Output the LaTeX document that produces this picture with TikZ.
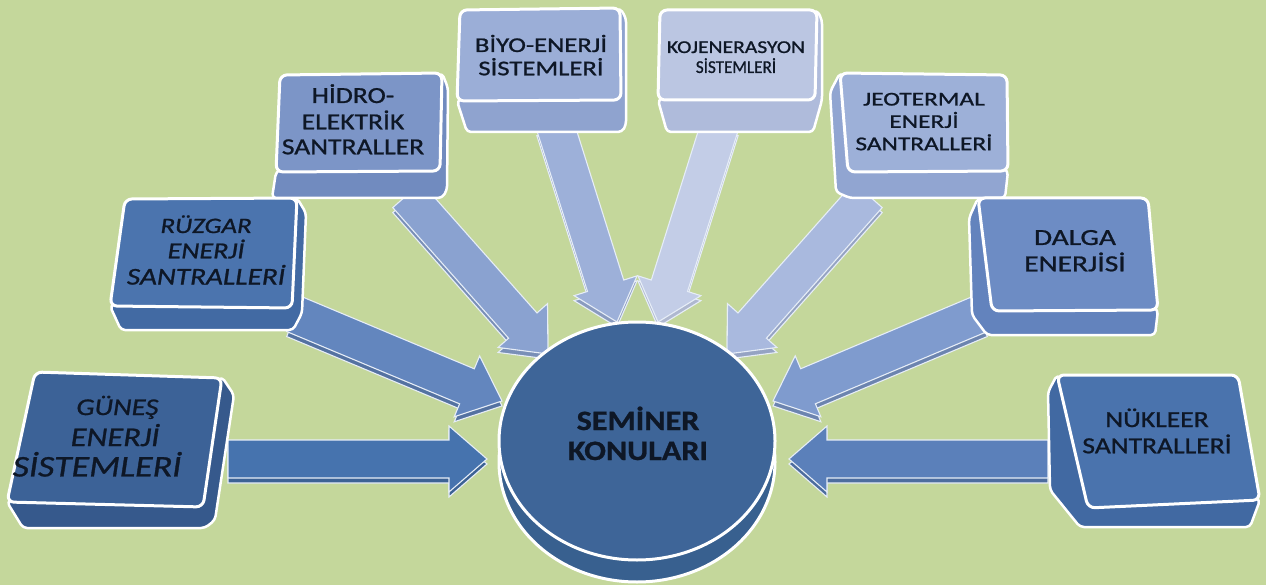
\documentclass[tikz,border=0pt]{standalone}
\usepackage{fontspec}
\setmainfont{Carlito}
\newfontfamily\boxfont{Carlito}[FakeBold=0.9]
\newfontfamily\centerfont{Carlito}[FakeBold=0.8]
\usepackage{graphicx}
\usetikzlibrary{calc}

\definecolor{bg}{HTML}{C4D79B}
\definecolor{textc}{HTML}{0E1726}
\definecolor{f1}{HTML}{3C6297}\definecolor{d1}{HTML}{36598C}
\definecolor{f2}{HTML}{4B74AE}\definecolor{d2}{HTML}{426AA3}
\definecolor{f3}{HTML}{7C95C7}\definecolor{d3}{HTML}{718BBF}
\definecolor{f4}{HTML}{9BAED7}\definecolor{d4}{HTML}{8FA3CF}
\definecolor{f5}{HTML}{BBC6E2}\definecolor{d5}{HTML}{AFBBDB}
\definecolor{f6}{HTML}{9DB0D8}\definecolor{d6}{HTML}{91A5D1}
\definecolor{f7}{HTML}{6D8CC4}\definecolor{d7}{HTML}{6383BD}
\definecolor{f8}{HTML}{4A73AD}\definecolor{d8}{HTML}{4169A2}
\definecolor{a1}{HTML}{4673AE}
\definecolor{a2}{HTML}{6386BE}
\definecolor{a3}{HTML}{8AA2D0}
\definecolor{a4}{HTML}{9DB0D9}
\definecolor{a5}{HTML}{C3CDE7}
\definecolor{a6}{HTML}{A9B9DE}
\definecolor{a7}{HTML}{7F9BCE}
\definecolor{a8}{HTML}{5B80BA}
\definecolor{disc}{HTML}{3E6598}
\definecolor{discd}{HTML}{38608F}
\definecolor{aline}{HTML}{E6EDF7}

\newcommand{\boxtext}[3]{\scalebox{#1}[1]{#2\begin{tabular}[t]{@{}c@{}}#3\end{tabular}}}

% block arrow from start coordinate #1 to tip coordinate #2, fill #3
\newcommand{\blockarrow}[3]{%
  \coordinate (#1h) at ($(#2)!38pt!(#1)$);
  \draw[arrowline, fill=#3] ($(#1)!19pt!90:(#2)$) -- ($(#1h)!19pt!90:(#2)$)
     -- ($(#1h)!33pt!90:(#2)$) -- (#2) -- ($(#1h)!33pt!-90:(#2)$)
     -- ($(#1h)!19pt!-90:(#2)$) -- ($(#1)!19pt!-90:(#2)$) -- cycle;}

\tikzset{
  face/.style={draw=white, line width=3pt, rounded corners=7pt, line join=round},
  depthface/.style={draw=white, line width=2.5pt, rounded corners=4pt, line join=round},
  arrowline/.style={draw=aline, line width=1.1pt, line join=miter},
  txt/.style={inner sep=0pt, text=textc, anchor=base},
}

\begin{document}
\begin{tikzpicture}[x=1pt,y=-1pt]
\fill[bg] (0,0) rectangle (1266,585);
\useasboundingbox (0,0) rectangle (1266,585);

% ---------- arrows ----------
\coordinate (s1) at (228,459); \coordinate (t1) at (487,459);
\coordinate (s2) at (294,314); \coordinate (t2) at (502,401);
\coordinate (s3) at (407,195); \coordinate (t3) at (548,354);
\coordinate (s4) at (555,125); \coordinate (t4) at (617,322);
\coordinate (s5) at (720,125); \coordinate (t5) at (658,322);
\coordinate (s6) at (868,195); \coordinate (t6) at (727,354);
\coordinate (s7) at (980,314); \coordinate (t7) at (773,401);
\coordinate (s8) at (1048,459); \coordinate (t8) at (789,459);
\foreach \i in {1,...,8}{
  \coordinate (s\i b) at ($(s\i)+(0,5)$);
  \coordinate (t\i b) at ($(t\i)+(0,5)$);
}
\blockarrow{s1b}{t1b}{a1!85!black}\blockarrow{s1}{t1}{a1}
\blockarrow{s2b}{t2b}{a2!85!black}\blockarrow{s2}{t2}{a2}
\blockarrow{s3b}{t3b}{a3!88!black}\blockarrow{s3}{t3}{a3}
\blockarrow{s4b}{t4b}{a4!88!black}\blockarrow{s4}{t4}{a4}
\blockarrow{s5b}{t5b}{a5!90!black}\blockarrow{s5}{t5}{a5}
\blockarrow{s6b}{t6b}{a6!88!black}\blockarrow{s6}{t6}{a6}
\blockarrow{s7b}{t7b}{a7!85!black}\blockarrow{s7}{t7}{a7}
\blockarrow{s8b}{t8b}{a8!85!black}\blockarrow{s8}{t8}{a8}

% ---------- central disc ----------
\draw[white, line width=3pt, fill=discd] (637,462) ellipse [x radius=138, y radius=120];
\draw[white, line width=3pt, fill=disc] (637,441) ellipse [x radius=138, y radius=119];
\node[txt] (center) at (638,430)
  {\boxtext{1.15}{\centerfont\bfseries\fontsize{28}{30}\selectfont}{SEMİNER\\KONULARI}};

% ---------- boxes ----------
% 1 Gunes
\draw[depthface, fill=d1] (222,377) -- (234,395) -- (215,520) -- (205,528) -- (23,528) -- (7,502) -- cycle;
\draw[face, fill=f1] (35,372) -- (222,378) -- (203,507) -- (7,502) -- cycle;
\node[txt] (b1) at (97,415) {\boxtext{1.2}{\boxfont\itshape\fontsize{24}{30}\selectfont}{%
  \hspace*{34pt}GÜNEŞ\\ \fontsize{27}{30}\selectfont\hspace*{30pt}ENERJİ\\[-3pt]
  \fontsize{30}{30}\selectfont SİSTEMLERİ}};

% 2 Ruzgar
\draw[depthface, fill=d2] (297,198) -- (306,213) -- (302,313) -- (293,330) -- (121,330) -- (110,306) -- cycle;
\draw[face, fill=f2] (125,199) -- (297,198) -- (292,308) -- (110,306) -- cycle;
\node[txt] (b2) at (206,233) {\boxtext{1.22}{\boxfont\itshape\fontsize{22}{22}\selectfont}{%
  RÜZGAR\\ \fontsize{23}{22}\selectfont ENERJİ\\ \fontsize{24}{22}\selectfont SANTRALLERİ}};

% 3 Hidro
\draw[depthface, fill=d3] (442,73) -- (448,88) -- (447,190) -- (442,198) -- (272,198) -- (276,172) -- cycle;
\draw[face, fill=f3] (280,75) -- (442,73) -- (440,171) -- (276,172) -- cycle;
\node[txt] (b3) at (353,103) {\boxtext{1.2}{\boxfont\fontsize{23}{25}\selectfont}{%
  HİDRO-\\ELEKTRİK\\SANTRALLER}};

% 4 Biyo
\draw[depthface, fill=d4] (620,8) -- (626,18) -- (626,125) -- (622,132) -- (467,132) -- (457,101) -- cycle;
\draw[face, fill=f4] (460,10) -- (620,8) -- (621,100) -- (457,101) -- cycle;
\node[txt] (b4) at (541,52) {\boxtext{1.27}{\boxfont\fontsize{21}{20.5}\selectfont}{%
  BİYO-ENERJİ\\SİSTEMLERİ}};

% 5 Kojenerasyon
\draw[depthface, fill=d5] (817,10) -- (822,20) -- (822,100) -- (813,132) -- (667,132) -- (658,100) -- cycle;
\draw[face, fill=f5] (660,10) -- (817,10) -- (815,100) -- (658,100) -- cycle;
\node[txt] (b5) at (736,53) {\boxtext{1}{\boxfont\fontsize{18}{17.5}\selectfont}{%
  \scalebox{1.2}[1]{KOJENERASYON}\\ \scalebox{0.95}[1]{SİSTEMLERİ}}};

% 6 Jeotermal
\draw[depthface, fill=d6] (840,73) -- (830,92) -- (836,192) -- (850,198) -- (1005,198) -- (1008,171) -- cycle;
\draw[face, fill=f6] (840,73) -- (1007,75) -- (1008,171) -- (848,172) -- cycle;
\node[txt] (b6) at (924,105.5) {\boxtext{1.3}{\boxfont\fontsize{19.5}{21.5}\selectfont}{%
  JEOTERMAL\\ENERJİ\\SANTRALLERİ}};

% 7 Dalga
\draw[depthface, fill=d7] (978,198) -- (969,218) -- (972,315) -- (987,335) -- (1155,335) -- (1158,310) -- cycle;
\draw[face, fill=f7] (978,198) -- (1148,198) -- (1158,310) -- (992,311) -- cycle;
\node[txt] (b7) at (1075,245) {\boxtext{1.28}{\boxfont\fontsize{23}{25}\selectfont}{%
  DALGA\\ENERJİSİ}};

% 8 Nukleer
\draw[depthface, fill=d8] (1057,375) -- (1048,392) -- (1050,490) -- (1080,527) -- (1250,527) -- (1260,500) -- cycle;
\draw[face, fill=f8] (1057,375) -- (1238,375) -- (1260,500) -- (1088,508) -- cycle;
\node[txt] (b8) at (1157,427) {\boxtext{1.2}{\boxfont\fontsize{23}{25}\selectfont}{%
  NÜKLEER\\SANTRALLERİ}};
\end{tikzpicture}
\end{document}
